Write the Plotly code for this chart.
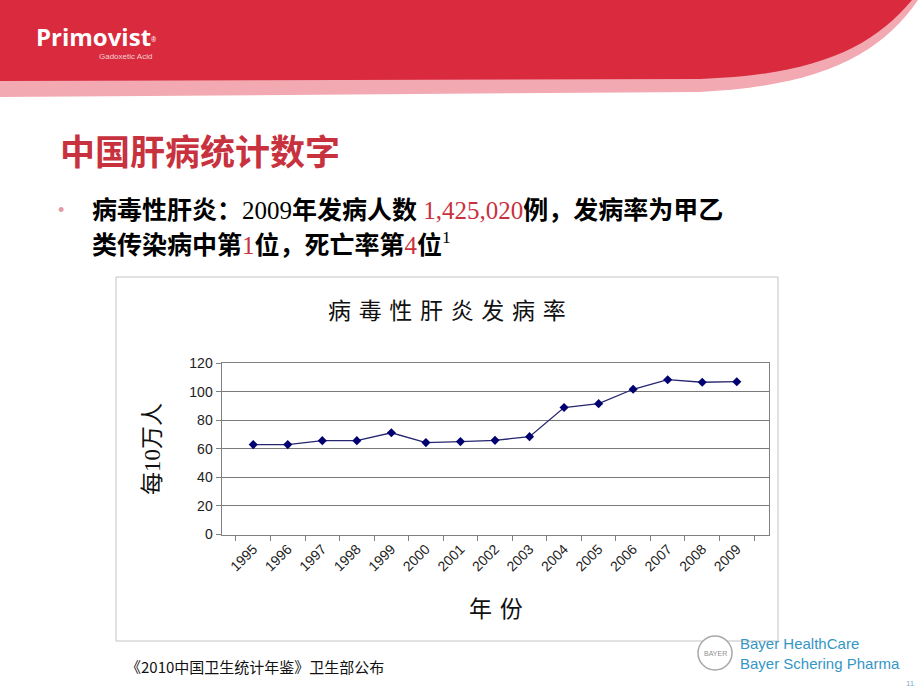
import plotly.graph_objects as go

W, H = 920, 690

years = ["1995", "1996", "1997", "1998", "1999", "2000", "2001", "2002",
         "2003", "2004", "2005", "2006", "2007", "2008", "2009"]
incidence = [63.0, 63.0, 65.8, 65.8, 71.3, 64.4, 65.1, 66.0,
             68.6, 89.0, 91.7, 101.8, 108.5, 106.7, 107.1]
y_ticks = [0, 20, 40, 60, 80, 100, 120]

RED = "#c8323e"


def px(x):
    return x / W


def py(y):
    return 1 - y / H


fig = go.Figure()
fig.add_trace(go.Scatter(
    x=years, y=incidence, mode="lines+markers",
    line=dict(color="#262670", width=1.3),
    marker=dict(symbol="diamond", size=7, color="#000070"),
    showlegend=False, hoverinfo="x+y"))

shapes = []
# header bands
shapes.append(dict(type="path", xref="paper", yref="paper", layer="below",
                   path=f"M {px(0)},{py(0)} L {px(918)},{py(0)} C {px(880)},{py(55)} {px(820)},{py(86)} {px(700)},{py(92)} L {px(0)},{py(97)} Z",
                   fillcolor="#f2a9b1", line=dict(width=0)))
shapes.append(dict(type="path", xref="paper", yref="paper", layer="below",
                   path=f"M {px(0)},{py(0)} L {px(912)},{py(0)} C {px(872)},{py(48)} {px(815)},{py(75)} {px(700)},{py(79)} L {px(0)},{py(81)} Z",
                   fillcolor="#da2a3e", line=dict(width=0)))
# chart frame
shapes.append(dict(type="rect", xref="paper", yref="paper", layer="below",
                   x0=px(116), x1=px(778), y0=py(641), y1=py(277),
                   fillcolor="white", line=dict(color="#c4c4c4", width=1)))
# Bayer logo circle
shapes.append(dict(type="circle", xref="paper", yref="paper", layer="below",
                   x0=px(698), x1=px(732), y0=py(670), y1=py(636),
                   fillcolor="white", line=dict(color="#a8a8a8", width=1.5)))

ann = []


def A(x, y, text, size, color="#000", family="Noto Sans CJK SC", xa="left", ya="middle", angle=0):
    ann.append(dict(x=px(x), y=py(y), xref="paper", yref="paper", text=text,
                    showarrow=False, xanchor=xa, yanchor=ya, textangle=angle,
                    font=dict(size=size, color=color, family=family)))


A(34, 36, "<b>Primovist</b><span style='font-size:9px'><sup>®</sup></span>", 24, "white", "Open Sans")
A(97, 57, "Gadoxetic Acid", 8, "#f6d0d4", "Liberation Sans")

A(58, 150, "<b>中国肝病统计数字</b>", 35, RED)
A(56, 210, "•", 18, "#e59aa3", "Liberation Sans")
body_font = "Liberation Serif, Noto Sans CJK SC"
A(90, 211, "<b>病毒性肝炎：</b>2009<b>年发病人数 </b><span style='color:#c8323e'>1,425,020</span><b>例，发病率为甲乙</b>",
  25, "#000", body_font)
A(90, 243, "<b>类传染病中第</b><span style='color:#c8323e'>1</span><b>位，死亡率第</b><span style='color:#c8323e'>4</span><b>位</b><sup>1</sup>",
  25, "#000", body_font)

A(447, 309, "病\u2004毒\u2004性\u2004肝\u2004炎\u2004发\u2004病\u2004率", 23, "#111", xa="center")
A(152, 449, "每10万人", 23, "#111", body_font, xa="center", angle=-90)
A(496, 607, "年\u2004份", 23, "#111", xa="center")

A(124, 666, "《2010中国卫生统计年鉴》卫生部公布", 15, "#111")

A(715, 653, "BAYER", 7, "#909090", "Liberation Sans", xa="center")
A(738, 643, "Bayer HealthCare", 15, "#3596c4", "Liberation Sans")
A(738, 663, "Bayer Schering Pharma", 15, "#3596c4", "Liberation Sans")
A(904, 683, "11", 8, "#7fb0d0", "Liberation Sans")

fig.update_layout(
    width=W, height=H,
    margin=dict(l=0, r=0, t=0, b=0, pad=0, autoexpand=False),
    paper_bgcolor="white",
    plot_bgcolor="#c0c0c0",
    shapes=shapes,
    annotations=ann,
    xaxis=dict(domain=[px(221.5), px(768.5)], type="category",
               categoryorder="array", categoryarray=years,
               tickson="boundaries", ticks="outside", ticklen=5,
               tickcolor="#808080", tickangle=-45, automargin=False,
               tickfont=dict(family="Liberation Sans", size=14, color="#222"),
               showline=True, linecolor="#808080", linewidth=1, mirror=True,
               showgrid=False, zeroline=False, fixedrange=True),
    yaxis=dict(domain=[py(534.5), py(363.3)], range=[0, 120],
               tickvals=y_ticks, ticks="outside", ticklen=5,
               tickcolor="#808080", automargin=False,
               tickfont=dict(family="Liberation Sans", size=14, color="#222"),
               showline=True, linecolor="#808080", linewidth=1, mirror=True,
               showgrid=True, gridcolor="#7a7a7a", gridwidth=1,
               zeroline=False, fixedrange=True),
)

fig.write_html("out.html")
